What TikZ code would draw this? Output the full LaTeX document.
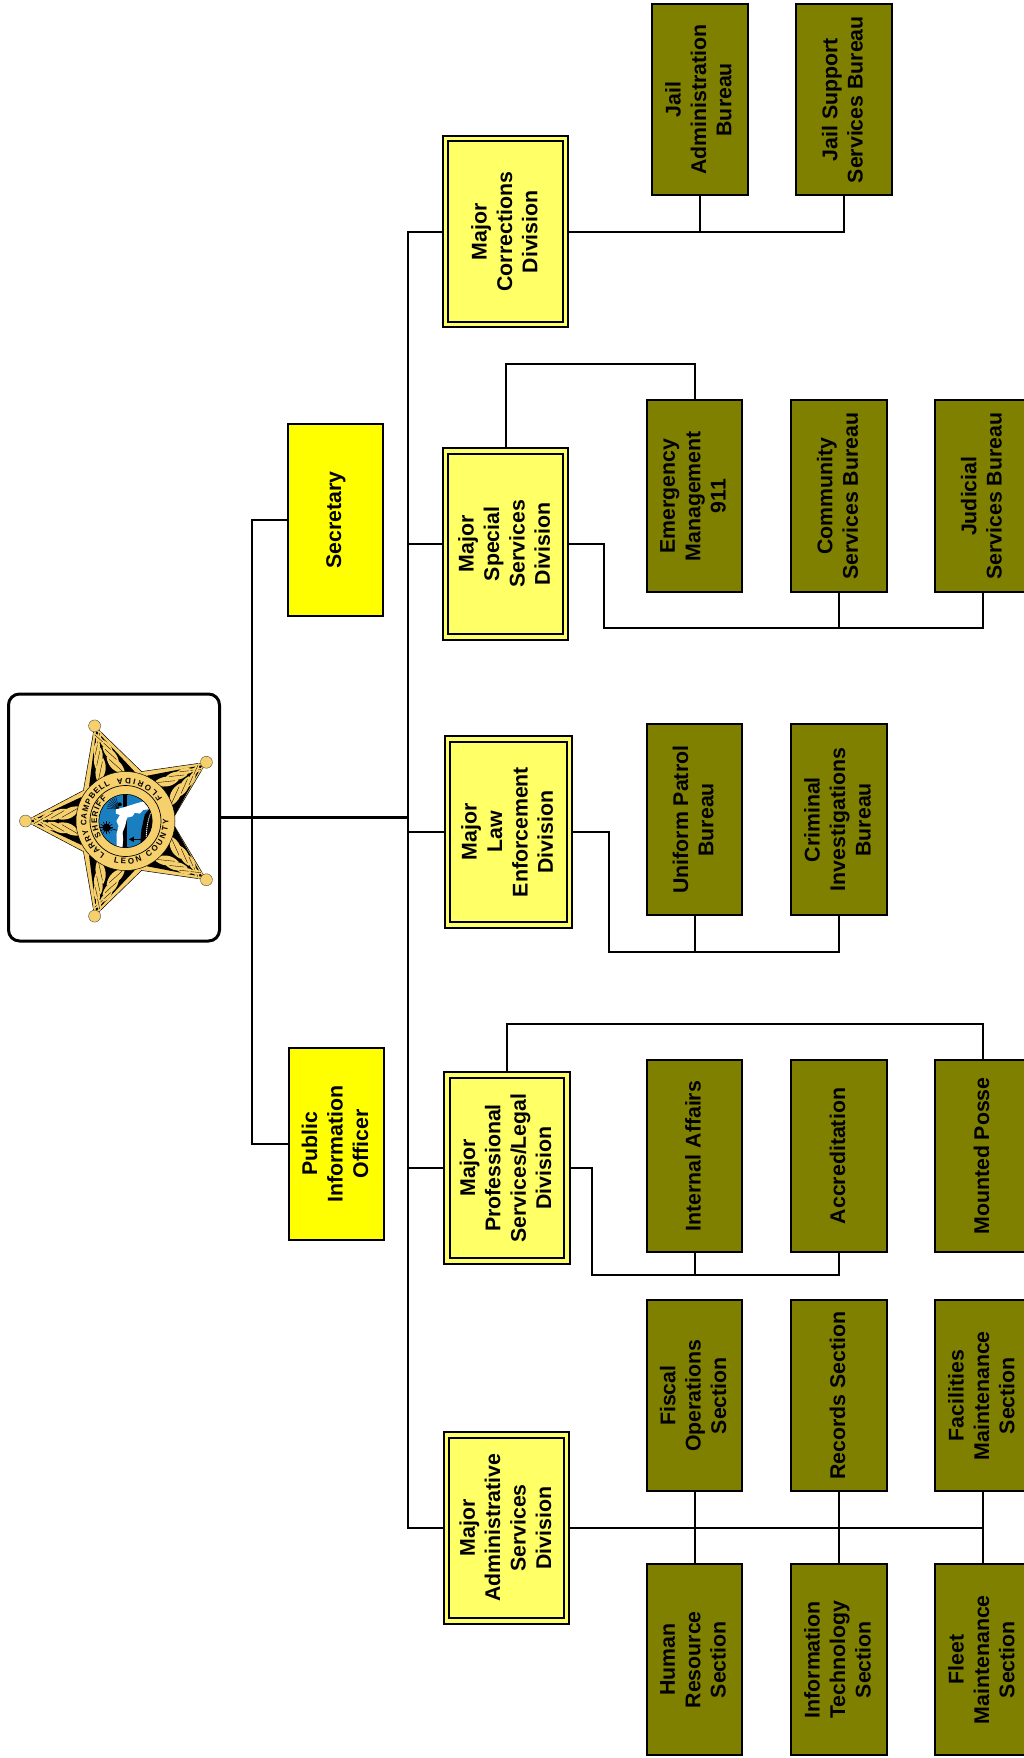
\documentclass[tikz,border=0pt]{standalone}
\usepackage{fontspec}
\setmainfont{Liberation Sans}
\usetikzlibrary{decorations.text}
\definecolor{bureauolive}{HTML}{808000}
\definecolor{majoryellow}{HTML}{FFFF66}
\definecolor{staffyellow}{HTML}{FFFF00}
\definecolor{sealgold}{HTML}{F6D06C}
\definecolor{sealblue}{HTML}{1A7FC1}
\newcommand{\ringfont}{\fontsize{8}{8}\selectfont\bfseries}
\tikzset{
    orgbox/.style={draw,line width=2pt,rotate=90,align=center,inner sep=0pt,text depth=3pt,
        font=\fontsize{21.3}{25.4}\selectfont\bfseries},
    bureau/.style={orgbox,fill=bureauolive,minimum width=191.5pt,minimum height=95.5pt},
    staff/.style={orgbox,fill=staffyellow,minimum width=191.5pt,minimum height=95.5pt},
    major/.style={orgbox,fill=majoryellow,line width=2pt,double=majoryellow,double distance=3.2pt,
        outer sep=3.6pt,minimum width=186pt,minimum height=#1},
    major/.default=120pt,
    link/.style={line width=2pt},
    ringtext/.style={decorate,decoration={text along path,text={|\ringfont|#1},text align=fit to path}},
}
\begin{document}
\begin{tikzpicture}[x=1pt,y=-1pt]
    \useasboundingbox (0,0) rectangle (1024,1758);
    \clip (0,0) rectangle (1024,1758);

    % Logo box
    \node[draw,line width=3pt,rounded corners=11pt,fill=white,minimum width=211pt,minimum height=247pt,inner sep=0pt] (logo) at (114,817.5) {};

    % Staff
    \node[staff] (secretary) at (335.3,519.8) {Secretary};
    \node[staff] (pio) at (336.4,1143.8) {Public\\Information\\Officer};

    % Divisions
    \node[major] (corrections) at (505.8,231.8) {Major\\Corrections\\Division};
    \node[major] (special) at (505.6,543.9) {Major\\Special\\Services\\Division};
    \node[major=122pt] (law) at (508.6,832) {Major\\Law\\Enforcement\\Division};
    \node[major] (professional) at (506.9,1168) {Major\\Professional\\Services/Legal\\Division};
    \node[major] (administrative) at (506.7,1528) {Major\\Administrative\\Services\\Division};

    % Bureaus
    \node[bureau] (jailadmin) at (699.8,99.7) {Jail\\Administration\\Bureau};
    \node[bureau] (jailsupport) at (843.8,99.7) {Jail Support\\Services Bureau};
    \node[bureau] (emergency) at (694.5,496.2) {Emergency\\Management\\911};
    \node[bureau] (community) at (838.9,496.2) {Community\\Services Bureau};
    \node[bureau] (judicial) at (982.8,496.2) {Judicial\\Services Bureau};
    \node[bureau] (uniform) at (694.5,819.7) {Uniform Patrol\\Bureau};
    \node[bureau] (criminal) at (838.9,819.7) {Criminal\\Investigations\\Bureau};
    \node[bureau] (internal) at (694.5,1156) {Internal Affairs};
    \node[bureau] (accreditation) at (838.9,1156) {Accreditation};
    \node[bureau] (posse) at (982.8,1156) {Mounted Posse};
    \node[bureau] (fiscal) at (694.5,1395.7) {Fiscal\\Operations\\Section};
    \node[bureau] (records) at (838.9,1395.7) {Records Section};
    \node[bureau] (facilities) at (982.8,1395.7) {Facilities\\Maintenance\\Section};
    \node[bureau] (human) at (694.5,1659.7) {Human\\Resource\\Section};
    \node[bureau] (infotech) at (838.9,1659.7) {Information\\Technology\\Section};
    \node[bureau] (fleet) at (982.8,1659.7) {Fleet\\Maintenance\\Section};

    % Rails
    \coordinate (staffbus) at (252.3,817.5);
    \coordinate (majorbus) at (408.2,817.5);
    \coordinate (specialrail) at (603.8,628);
    \coordinate (lawrail) at (609,952);
    \coordinate (professionalrail) at (592,1275);

    % Trunk
    \draw[line width=3pt] (logo.east) -- (majorbus);
    \draw[link] (secretary.north) -| (staffbus) |- (pio.north);
    \draw[link] (corrections.north) -| (majorbus) |- (administrative.north);
    \draw[link] (special.north) -| (majorbus);
    \draw[link] (law.north) -| (majorbus);
    \draw[link] (professional.north) -| (majorbus);

    % Corrections
    \draw[link] (corrections.south) -| (jailsupport.west);
    \draw[link] (jailadmin.west) -- (jailadmin.west |- corrections.south);

    % Special services
    \draw[link] (special.east) -- ++(0,-83) -| (emergency.east);
    \draw[link] (special.south) -| (specialrail) -| (judicial.west);
    \draw[link] (community.west) -- (community.west |- specialrail);

    % Law enforcement
    \draw[link] (law.south) -| (lawrail) -| (criminal.west);
    \draw[link] (uniform.west) -- (uniform.west |- lawrail);

    % Professional
    \draw[link] (professional.east) -- ++(0,-47.5) -| (posse.east);
    \draw[link] (professional.south) -| (professionalrail) -| (accreditation.west);
    \draw[link] (internal.west) -- (internal.west |- professionalrail);

    % Administrative
    \draw[link] (administrative.south) -| (facilities.west);
    \draw[link] (fiscal.west) -- (human.east);
    \draw[link] (records.west) -- (infotech.east);
    \draw[link] (facilities.west) -- (fleet.east);

    % Badge
    \begin{scope}[shift={(125.5,821)},y=1pt]
        \fill[sealgold,draw=black,line width=.5pt] (180:100) -- (144:52) -- (108:100) -- (72:52) -- (36:100) -- (0:46) -- (-36:100) -- (-72:52) -- (-108:100) -- (-144:52) -- cycle;
        \foreach \ang in {180,108,36,-36,-108} {
            \begin{scope}[rotate=\ang]
                \fill[black] (44,-24) -- (95,0) -- (44,24) -- cycle;
                % Leaves
                \foreach \px/\py/\len/\wid in {56/8/12.5/5,68/6.5/11/4.2,78/5/9/3.2,87/0/7.5/2.4} {
                    \foreach \sgn in {1,-1} {
                        \fill[sealgold,shift={(\px,\sgn*\py)},rotate=-\sgn*30] (-\len,0) .. controls (-\len*.4,\wid*1.3) and (\len*.4,\wid*1.3) .. (\len,0) .. controls (\len*.4,-\wid*1.3) and (-\len*.4,-\wid*1.3) .. cycle;
                        \draw[black,line width=.35pt,shift={(\px,\sgn*\py)},rotate=-\sgn*30] (-\len*.7,0) -- (\len*.7,0);
                    }
                }
                \fill[sealgold,draw=black!70,line width=.4pt] (100,0) circle (6);
            \end{scope}
        }
        % Seal
        \fill[sealgold] (0,0) circle (49.5);
        \draw[black,line width=.5pt] (0,0) circle (49.5);
        \draw[black,line width=.7pt] (0,0) circle (35.5);
        \path[ringtext={LARRY CAMPBELL}] (238:39) arc (238:113:39);
        \path[ringtext={SHERIFF}] (213:28.5) arc (213:130:28.5);
        \path[ringtext={LEON COUNTY}] (254:43) arc (254:362:43);
        \path[ringtext={FLORIDA}] (31:43) arc (31:102:43);
        \begin{scope}
            \clip (0,0) circle (26.7);
            \fill[sealblue] (0,0) circle (26.7);
            \begin{scope}[shift={(-55.67,50)},x=.3333pt,y=-.3333pt]
                \fill[black] (160,50) rectangle (172,250);
                \fill[black] (247,105) -- (225,130) -- (215,175) -- (212,210) -- (222,250) -- (265,240) -- (270,150) -- cycle;
                \draw[white,line width=.9pt,dash pattern=on 1.2pt off .8pt] (243,125) .. controls (232,150) and (226,190) .. (232,232);
                \foreach \a in {-175,-165,...,-105} {\draw[black,line width=.35pt] (148,115) -- ++(\a:38);}
                \fill[black] (150,100) circle (6);
                \foreach \a in {0,30,...,330} {\draw[black,line width=.5pt] (110,170) -- ++(\a:20);}
                \fill[black] (110,170) circle (12);
                \draw[black,line width=.6pt] (120,172) -- (150,180);
                \fill[white] (138,115) -- (165,108) -- (200,97) -- (225,90) -- (250,97) -- (242,114) -- (220,117) -- (210,128) -- (195,125) -- (188,136) -- (172,140) -- (166,165) -- (158,185) -- (160,205) -- (156,245) -- (141,242) -- (140,190) -- (146,165) -- (140,150) -- (150,132) -- (138,128) -- cycle;
                \fill[black] (230,100) circle (2.5);
                \draw[black,line width=.8pt] (185,205) -- (225,205);
                \fill[black] (177,205) -- (192,197) -- (192,213) -- cycle;
            \end{scope}
        \end{scope}
        \draw[black,line width=.6pt] (0,0) circle (26.7);
    \end{scope}
\end{tikzpicture}
\end{document}
